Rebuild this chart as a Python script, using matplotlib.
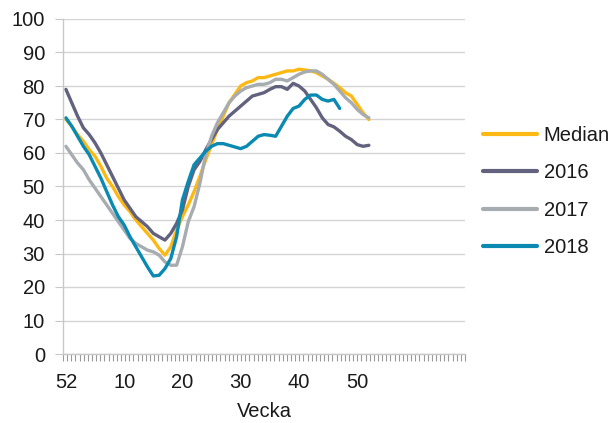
import numpy as np
import matplotlib
matplotlib.use("Agg")
import matplotlib.pyplot as plt

# Week order on the x axis: week 52 of the previous year, then weeks 1..52
weeks = [52] + list(range(1, 53))
tick_weeks = [52, 10, 20, 30, 40, 50]

median = [70, 68, 65.5, 63.5, 61, 59, 56, 52.5, 50, 47, 44.5, 42.5, 40, 38, 36,
          34, 31.5, 29.5, 32, 37, 41, 44.5, 48.5, 53, 58, 62.5, 67, 71, 75,
          77.5, 80, 81, 81.5, 82.5, 82.5, 83, 83.5, 84, 84.5, 84.5, 85, 84.8,
          84.5, 84, 83, 82, 80.8, 79.5, 78, 77, 74.5, 72, 70]
y2016 = [79, 75, 71, 67.5, 65.5, 63, 60, 56.5, 53, 49.5, 46, 43.5, 41, 39.5,
         38, 36, 35, 34, 36, 39, 43, 50, 55, 57.5, 61, 64, 67, 69, 71, 72.5, 74,
         75.5, 77, 77.5, 78, 79, 79.8, 79.8, 79, 80.8, 80, 78.5, 76, 73.5, 70.5,
         68.5, 67.8, 66.5, 65, 64, 62.5, 62, 62.3]
y2017 = [62, 59.5, 57, 55, 52, 49.5, 47, 44.5, 42, 39.5, 37, 34.5, 33, 32, 31,
         30.5, 29.5, 27.5, 26.5, 26.5, 32, 39.5, 44, 51, 59.5, 65, 69, 72, 75,
         77, 78.5, 79.5, 80, 80.5, 80.5, 81, 82, 82, 81.5, 82.5, 83.5, 84.2,
         84.5, 84.5, 83.5, 82, 80.5, 78.5, 76.5, 75, 73, 71.5, 70.5]
y2018 = [70.5, 68, 65, 62, 59.5, 56, 52.5, 48.5, 44.5, 41, 38.5, 35, 32, 29,
         26, 23.3, 23.5, 25.5, 28.5, 35, 46, 51.5, 56.5, 58.5, 60.5, 62, 62.8,
         62.8, 62.3, 61.8, 61.3, 62, 63.5, 65, 65.5, 65.3, 65, 68, 71, 73.3, 74,
         76, 77.3, 77.3, 76, 75.5, 76, 73.3]

series = [
    ("Median", median, "#FDB913"),
    ("2016", y2016, "#62627F"),
    ("2017", y2017, "#A6ACB0"),
    ("2018", y2018, "#0A8AB2"),
]

font = ["Liberation Sans", "DejaVu Sans"]
plt.rcParams["font.family"] = font
fs = 14.5

fig = plt.figure(figsize=(6.11, 4.23), dpi=100)
ax = fig.add_axes([63 / 611, 1 - 354 / 423, 402 / 611, 335 / 423])

for name, vals, color in series:
    x = np.arange(len(vals))
    ax.plot(x, vals, color=color, lw=2.4, label=name,
            solid_joinstyle="round", solid_capstyle="round")

ax.set_xlim(-0.5, 68.5)
ax.set_ylim(0, 100)
ax.set_yticks(range(0, 101, 10))
ax.set_xticks([weeks.index(w) for w in tick_weeks])
ax.set_xticklabels([str(w) for w in tick_weeks])
ax.set_xticks(np.linspace(-0.5, 68.5, 98), minor=True)

ax.grid(axis="y", color="#d4d4d4", lw=1.0)
ax.set_axisbelow(True)
for s in ["top", "right"]:
    ax.spines[s].set_visible(False)
for s in ["left", "bottom"]:
    ax.spines[s].set_color("#c8c8c8")
    ax.spines[s].set_linewidth(1.0)

ax.tick_params(axis="y", length=6, color="#c8c8c8", labelsize=fs,
               pad=7, labelcolor="#1a1a1a")
ax.tick_params(axis="x", which="major", length=0, labelsize=fs, pad=14,
               labelcolor="#1a1a1a")
ax.tick_params(axis="x", which="minor", length=5, color="#9a9a9a", width=0.8)

ax.set_xlabel("Vecka", fontsize=fs, color="#1a1a1a", labelpad=7)

leg = ax.legend(loc="center left", bbox_to_anchor=(1.045, 0.485),
                frameon=False, fontsize=fs, handlelength=2.7,
                handletextpad=0.3, labelspacing=0.9, borderpad=0,
                borderaxespad=0)
for line in leg.get_lines():
    line.set_linewidth(3)
for t in leg.get_texts():
    t.set_color("#1a1a1a")

fig.savefig("out.png", dpi=100)
